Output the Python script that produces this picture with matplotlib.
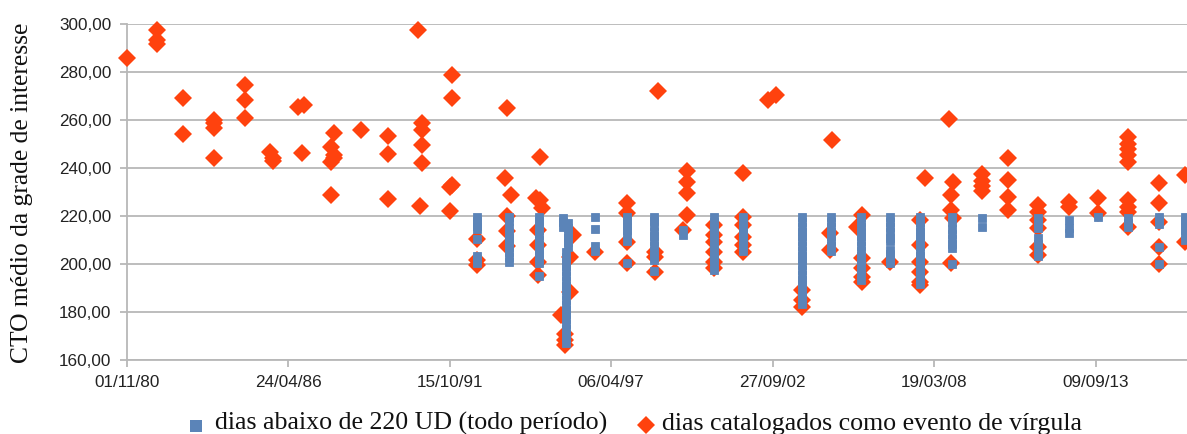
import numpy as np
import pandas as pd
import matplotlib
matplotlib.use("Agg")
import matplotlib.pyplot as plt
import matplotlib.dates as mdates
from matplotlib.lines import Line2D

# Comma-event days: decimal year of each event and the CTO values recorded on it
virgula_anos = [1980.83, 1981.85, 1982.75, 1983.80, 1984.83, 1985.70, 1985.80,
                1986.65, 1986.85, 1986.77, 1987.85, 1987.77, 1988.78, 1989.70,
                1990.72, 1990.86, 1990.78, 1991.85, 1991.78, 1991.86, 1992.72,
                1993.74, 1993.66, 1993.88, 1994.85, 1994.70, 1994.92, 1994.78,
                1995.97, 1995.88, 1995.55, 1995.70, 1996.72, 1997.79, 1998.86,
                1998.75, 1999.83, 1999.70, 2000.73, 2001.74, 2002.59, 2002.86,
                2003.72, 2004.76, 2004.68, 2005.76, 2005.60, 2006.72, 2007.74,
                2007.90, 2008.70, 2008.86, 2008.78, 2009.83, 2010.73, 2011.75,
                2012.77, 2013.78, 2014.80, 2015.82, 2016.72]
virgula_cto = [[285.7], [297.7, 293.3, 291.5], [269.3, 254.2],
               [260.0, 258.6, 256.5, 244.3], [274.6, 268.3, 261.0], [246.8],
               [244.0, 242.9], [265.5], [266.3], [246.4], [254.4, 245.4, 244.0],
               [248.9, 242.6, 228.7], [255.8], [253.5, 245.7, 227.0], [297.5],
               [258.6, 255.8, 249.6, 242.0], [224.3], [278.7, 269.3],
               [232.2, 222.1], [232.9], [210.4, 201.7, 199.6],
               [264.9, 220.0, 213.7, 207.5], [235.7], [228.7], [244.7, 226.7],
               [227.4], [223.2], [214.2, 207.9, 201.0, 195.4], [212.0],
               [203.0, 188.5], [178.7], [171.0, 168.3, 166.2], [205.1],
               [225.3, 221.1, 209.3, 200.3], [272.1], [205.1, 203.0, 196.8],
               [238.7, 234.3, 229.5, 220.4], [214.2],
               [216.2, 212.1, 209.3, 205.1, 201.0, 198.2],
               [237.8, 219.7, 216.2, 211.4, 207.9, 205.1], [268.3], [270.4],
               [189.2, 185.0, 182.2], [251.7], [212.8, 205.8],
               [220.4, 202.4, 198.2, 194.7, 192.6], [215.5], [201.0],
               [218.3, 207.9, 201.0, 196.8, 192.6, 191.2], [236.0], [260.4],
               [234.3, 219.0], [228.7, 222.5, 200.3],
               [237.6, 234.7, 232.6, 230.5], [244.0, 235.0, 228.0, 222.5],
               [224.6, 221.8, 218.3, 214.9, 207.2, 203.7], [226.0, 223.9],
               [227.4, 221.1],
               [253.0, 250.2, 248.1, 245.4, 242.6, 226.7, 223.6, 221.8, 215.5],
               [233.6, 225.3, 217.6, 207.2, 199.9], [237.1, 209.3]]

# Days with CTO below 220 UD over the whole period
abaixo_anos = [1992.72, 1993.80, 1994.80, 1995.62, 1995.80, 1995.72, 1996.72,
               1997.79, 1998.72, 1999.70, 2000.73, 2001.74, 2003.72, 2004.70,
               2005.74, 2006.72, 2007.74, 2008.80, 2009.83, 2011.75, 2012.77,
               2013.78, 2014.80, 2015.82, 2016.72]
abaixo_cto = [[219.5, 218.0, 216.0, 214.5, 210.5, 203.5, 202.0, 200.5],
              [219.5, 218.0, 215.0, 213.0, 211.0, 209.0, 207.0, 205.0, 203.0,
               201.0],
              [219.5, 218.0, 216.0, 214.0, 212.0, 210.0, 208.0, 206.0, 204.0,
               202.0, 200.5, 195.0],
              [219.0, 217.5, 215.5],
              [217.0, 215.0, 213.0, 211.0, 209.0, 207.0],
              [205.0, 203.0, 201.0, 199.0, 197.0, 195.0, 193.0, 191.0, 189.0,
               187.0, 185.0, 183.0, 181.0, 179.0, 177.0, 175.0, 173.0, 171.0,
               169.0, 167.0],
              [219.5, 214.5, 207.5, 205.5],
              [219.5, 218.0, 216.0, 214.0, 212.0, 209.5, 200.5],
              [219.5, 218.0, 216.0, 213.5, 211.5, 209.5, 207.5, 205.5, 203.5,
               201.5, 197.0],
              [214.0, 212.0],
              [219.5, 217.5, 215.5, 213.5, 211.5, 209.5, 207.5, 205.5, 203.5,
               201.5, 199.5, 197.5],
              [219.5, 217.5, 215.5, 213.5, 211.5, 209.5, 207.5, 205.5],
              [219.5, 217.5, 215.5, 213.5, 211.5, 209.5, 207.5, 205.5, 203.5,
               201.5, 199.5, 197.5, 195.5, 193.5, 191.5, 189.5, 187.5, 185.5,
               183.5],
              [219.5, 217.5, 215.5, 213.5, 211.5, 209.5, 207.5, 205.5],
              [219.5, 217.5, 215.5, 213.5, 211.5, 209.5, 207.5, 205.5, 203.5,
               201.5, 199.5, 197.5, 195.5, 193.5],
              [219.5, 217.5, 215.5, 213.5, 211.0, 209.5, 206.0, 204.0, 202.0,
               200.5],
              [219.5, 217.5, 215.5, 213.5, 211.5, 209.5, 207.5, 205.5, 203.5,
               201.5, 199.5, 197.5, 195.5, 193.5, 191.5],
              [219.5, 217.5, 214.5, 212.5, 210.5, 208.5, 206.5, 200.0],
              [219.0, 215.5],
              [219.0, 217.0, 215.0, 211.0, 208.5, 205.0, 203.5],
              [218.3, 214.9, 212.8],
              [219.7],
              [219.0, 217.0, 215.5],
              [219.5, 218.0, 216.5, 207.2, 200.0],
              [219.5, 218.0, 216.0, 214.0, 212.0, 210.0]]

y_ticks = [160, 180, 200, 220, 240, 260, 280, 300]
legenda = ["dias abaixo de 220 UD (todo período)",
           "dias catalogados como evento de vírgula"]
titulo_y = "CTO médio da grade de interesse"

cor_abaixo = "#5b84b8"
cor_virgula = "#ff420e"
cor_grade = "#b8b8b8"


def ano_para_data(a):
    ano = int(np.floor(a))
    inicio = pd.Timestamp(ano, 1, 1)
    dias = (pd.Timestamp(ano + 1, 1, 1) - inicio).days
    return inicio + pd.Timedelta(days=(a - ano) * dias)


def achatar(anos, valores):
    xs, ys = [], []
    for a, vs in zip(anos, valores):
        d = ano_para_data(a)
        for v in vs:
            xs.append(d)
            ys.append(v)
    return xs, ys


vx, vy = achatar(virgula_anos, virgula_cto)
bx, by = achatar(abaixo_anos, abaixo_cto)

W, H = 1187, 434
fig = plt.figure(figsize=(W / 100, H / 100), dpi=100)
ax = fig.add_axes([126.7 / W, 1 - 360 / H, 1 - 126.7 / W, 336 / H])

ax.plot(vx, vy, linestyle="none", marker="D", markersize=8.8,
        color=cor_virgula, markeredgewidth=0, zorder=3, clip_on=False)
ax.plot(bx, by, linestyle="none", marker="s", markersize=5.2,
        color=cor_abaixo, markeredgecolor=cor_abaixo, markeredgewidth=0.6,
        zorder=4, clip_on=False)

inicio = pd.Timestamp("1980-11-01")
ax.set_xlim(inicio, inicio + pd.Timedelta(days=13131))
ax.set_xticks([inicio + pd.Timedelta(days=2000 * k) for k in range(7)])
ax.xaxis.set_major_formatter(mdates.DateFormatter("%d/%m/%y"))

ax.set_ylim(160, 300)
ax.set_yticks(y_ticks)
ax.set_yticklabels([f"{v:.2f}".replace(".", ",") for v in y_ticks])

ax.yaxis.grid(True, color=cor_grade, linewidth=1.3, zorder=0)
ax.set_axisbelow(True)
for s in ("top", "right"):
    ax.spines[s].set_visible(False)
for s in ("left", "bottom"):
    ax.spines[s].set_color(cor_grade)
    ax.spines[s].set_linewidth(1.3)
ax.tick_params(axis="both", length=5, width=1.3, color=cor_grade,
               labelsize=12.3, labelcolor="#222222")
ax.tick_params(axis="y", pad=6)
ax.tick_params(axis="x", pad=6)
for lab in ax.get_xticklabels() + ax.get_yticklabels():
    lab.set_fontfamily("Liberation Sans")

fig.text(22 / W, 1 - 193 / H, titulo_y, rotation=90, ha="center",
         va="center", fontsize=18.4, family="Liberation Serif", color="#111111")

# legend drawn along the bottom edge
fig.add_artist(Line2D([195.5 / W], [1 - 426 / H], transform=fig.transFigure,
                      marker="s", markersize=8.5, color=cor_abaixo,
                      markeredgewidth=0, linestyle="none"))
fig.text(215 / W, 1 - 430 / H, legenda[0], ha="left", va="baseline",
         fontsize=18.6, family="Liberation Serif", color="#111111")
fig.add_artist(Line2D([646 / W], [1 - 425 / H], transform=fig.transFigure,
                      marker="D", markersize=9.2, color=cor_virgula,
                      markeredgewidth=0, linestyle="none"))
fig.text(662 / W, 1 - 430 / H, legenda[1], ha="left", va="baseline",
         fontsize=18.6, family="Liberation Serif", color="#111111")

fig.savefig("out.png", dpi=100)
